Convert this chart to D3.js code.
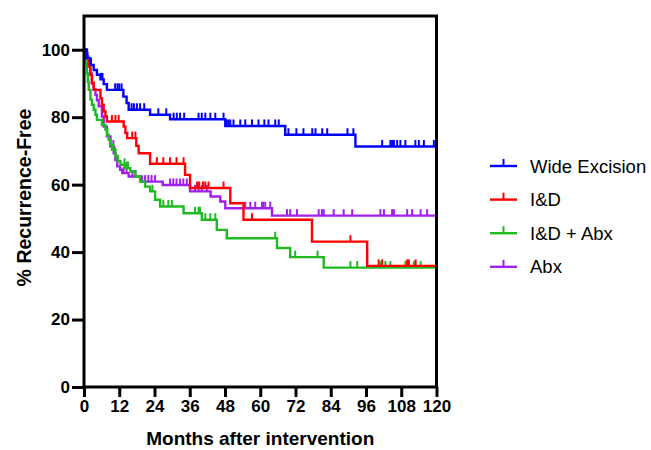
<!DOCTYPE html>
<html>
<head>
<meta charset="utf-8">
<script src="https://cdn.jsdelivr.net/npm/d3@7"></script>
<style>
  html, body { margin: 0; padding: 0; background: #fff; }
  svg { display: block; }
</style>
</head>
<body>
<svg id="chart" width="651" height="450"></svg>
<script>
// ---------------- DATA ----------------
const seriesNames = ["Wide Excision", "I&D", "I&D + Abx", "Abx"];

// step data: [months, % recurrence-free after the drop]
const wideExcisionSteps = [[0,100],[1,97.5],[2.2,95.5],[3.3,94],[4.4,92.6],[5.6,91.2],[6.7,89.8],[7.8,88.1],[13.4,86.1],[14.5,84.2],[15.2,82.2],[22.5,80.7],[29.3,79.4],[48.1,77.4],[68.5,74.8],[92.4,71.3]];
const wideExcisionCensored = [1.2,2.4,5.8,6.3,10.6,11.4,12,12.8,16.2,17,18,19.1,20.5,25.3,28,30.5,31.6,32.7,34.1,39,40.1,41.3,43,44.7,47.5,48.6,49.2,49.8,50.9,53.2,54.9,57.2,59.4,61.4,62.8,65.1,66.3,69.6,72.3,74.7,77.7,78.8,81.1,82.8,89.7,91.7,101.5,104.3,104.9,105.5,106.6,107.7,109.4,112.8,114,115.7,119.1,120];

const idSteps = [[0,100],[0.8,97.5],[1.6,95],[2.2,92.5],[2.7,90.2],[3.3,88.1],[5.6,85.6],[6.1,83.7],[6.7,81.7],[7.3,80.2],[7.8,78.7],[13.5,77.2],[14.1,75.3],[14.7,73.8],[17.8,71.5],[18.6,69.3],[22.5,66.2],[34.4,62.9],[36.1,59],[49.8,54.5],[54.3,49.6],[77.6,43.1],[96.4,35.9]];
const idCensored = [9.5,10.7,11.8,16.4,17.5,24.8,27,29.3,31.5,33.9,38.5,39.2,40.5,41.3,42.4,47.5,57.2,90.7,100.3,101.5,110,110.6,112.9];

const idAbxSteps = [[0,100],[0.5,96],[1,93],[1.3,90.5],[1.6,88.1],[2.2,85.2],[2.7,83.7],[3.3,82.2],[3.9,80.7],[4.4,79.2],[6.1,77.7],[7.3,76.3],[7.9,74.8],[8.4,73.3],[9,71.8],[9.5,70.3],[10.7,68.3],[11.5,67],[12.4,65.9],[14,64.9],[15.8,63.9],[17.5,62.4],[19.1,60.9],[20.8,59.4],[22.5,58],[24.2,55.5],[25.9,53.5],[33.9,51.5],[40.1,49.6],[45.2,46.6],[48.6,44.1],[65.7,41.2],[70.2,38.5],[81.6,35.4]];
const idAbxCensored = [10,11.5,13.8,14.5,15,23.3,25.9,27,28.7,29.9,37.8,39,39.5,41.3,43,44.7,65.1,71.9,79.5,90.7,93,100.9,102.6,104.3,109.4,112.3,114.6,120];

const abxSteps = [[0,100],[0.8,98],[1.5,96],[2.1,93],[2.7,90],[3.3,88.3],[3.9,86.6],[4.4,85],[5,83.2],[6.1,80.2],[6.7,77.2],[7.8,74.3],[9,71.3],[10.1,69.3],[10.7,67.3],[11.3,65.4],[12.3,64.4],[13,63.4],[15.2,62.4],[19.7,60.9],[26.8,59.9],[36.1,58],[43.1,56.5],[46.4,55],[48.1,53],[64,50.8]];
const abxCensored = [10,10.5,13.5,14.5,16.5,17.5,20.8,21.9,23,24.2,29.3,30.4,31.5,32.7,33.8,35,37.8,39,40.1,41.8,54.9,56.6,58.3,60.6,61,61.7,63.4,69.1,70.2,72.5,79.9,81,81.6,85,88.4,91.3,100.9,102.1,104.9,105.5,110,111.7,114.6,116.8,120];

const endMonths = [120, 120, 120, 120];
const seriesColors = ["#0000FF", "#FF0000", "#1FBA1F", "#A020EE"];

const xTicks = [0,12,24,36,48,60,72,84,96,108,120];
const yTicks = [0,20,40,60,80,100];
const xTitle = "Months after intervention";
const yTitle = "% Recurrence-Free";

// ---------------- LAYOUT ----------------
const svg = d3.select("#chart");
const L = 84, R = 436.5, T = 16, B = 387;
const x = d3.scaleLinear().domain([0,120]).range([L, R]);
const y = d3.scaleLinear().domain([0,110]).range([B, T]);

const allSteps = [wideExcisionSteps, idSteps, idAbxSteps, abxSteps];
const allCens = [wideExcisionCensored, idCensored, idAbxCensored, abxCensored];

function valueAt(steps, t) {
  let v = steps[0][1];
  for (const s of steps) { if (s[0] <= t) v = s[1]; }
  return v;
}

const line = d3.line().x(d => x(d[0])).y(d => y(d[1])).curve(d3.curveStepAfter);

const drawOrder = [3, 2, 1, 0];
const gCurves = svg.append("g");
drawOrder.forEach(i => {
  const steps = allSteps[i];
  const pts = steps.concat([[endMonths[i], steps[steps.length-1][1]]]);
  const g = gCurves.append("g");
  g.append("path")
    .attr("d", line(pts))
    .attr("fill", "none")
    .attr("stroke", seriesColors[i])
    .attr("stroke-width", 2.4)
    .attr("stroke-linejoin", "miter");
  g.selectAll("line.c").data(allCens[i]).enter().append("line")
    .attr("x1", d => x(d)).attr("x2", d => x(d))
    .attr("y1", d => y(valueAt(steps, d)))
    .attr("y2", d => y(valueAt(steps, d)) - 6.5)
    .attr("stroke", seriesColors[i])
    .attr("stroke-width", 2);
});

// Frame
svg.append("rect")
  .attr("x", L).attr("y", T).attr("width", R - L).attr("height", B - T)
  .attr("fill", "none").attr("stroke", "#000").attr("stroke-width", 3);

// Axes
const xAxis = d3.axisBottom(x).tickValues(xTicks).tickSize(10).tickPadding(3).tickFormat(d3.format("d"));
const gx = svg.append("g").attr("transform", `translate(0,${B})`).call(xAxis);
gx.select(".domain").remove();
gx.selectAll(".tick line").attr("stroke", "#000").attr("stroke-width", 3);
gx.selectAll(".tick text")
  .attr("font-family", "'Liberation Sans', Arial, sans-serif")
  .attr("font-weight", "bold").attr("font-size", 17).attr("fill", "#000");

const yAxis = d3.axisLeft(y).tickValues(yTicks).tickSize(12).tickPadding(2).tickFormat(d3.format("d"));
const gy = svg.append("g").attr("transform", `translate(${L},0)`).call(yAxis);
gy.select(".domain").remove();
gy.selectAll(".tick line").attr("stroke", "#000").attr("stroke-width", 3);
gy.selectAll(".tick text")
  .attr("font-family", "'Liberation Sans', Arial, sans-serif")
  .attr("font-weight", "bold").attr("font-size", 17).attr("fill", "#000");

// Titles
svg.append("text")
  .attr("x", (L + R) / 2).attr("y", 445)
  .attr("text-anchor", "middle")
  .attr("font-family", "'Liberation Sans', Arial, sans-serif")
  .attr("font-weight", "bold").attr("font-size", 19).attr("fill", "#000")
  .text(xTitle);

svg.append("text")
  .attr("transform", `translate(31,${(T + B) / 2 - 4}) rotate(-90)`)
  .attr("text-anchor", "middle")
  .attr("font-family", "'Liberation Sans', Arial, sans-serif")
  .attr("font-weight", "bold").attr("font-size", 19.5).attr("fill", "#000")
  .text(yTitle);

// Legend
const legend = svg.append("g");
seriesNames.forEach((name, i) => {
  const ly = 166 + i * 33.6;
  const g = legend.append("g");
  g.append("line").attr("x1", 490).attr("x2", 517).attr("y1", ly).attr("y2", ly)
    .attr("stroke", seriesColors[i]).attr("stroke-width", 2.4);
  g.append("line").attr("x1", 503.5).attr("x2", 503.5).attr("y1", ly).attr("y2", ly - 7)
    .attr("stroke", seriesColors[i]).attr("stroke-width", 2);
  g.append("text").attr("x", 530).attr("y", ly + 6.5)
    .attr("font-family", "'Liberation Sans', Arial, sans-serif")
    .attr("font-size", 18.5).attr("fill", "#000")
    .text(name);
});
</script>
</body>
</html>
